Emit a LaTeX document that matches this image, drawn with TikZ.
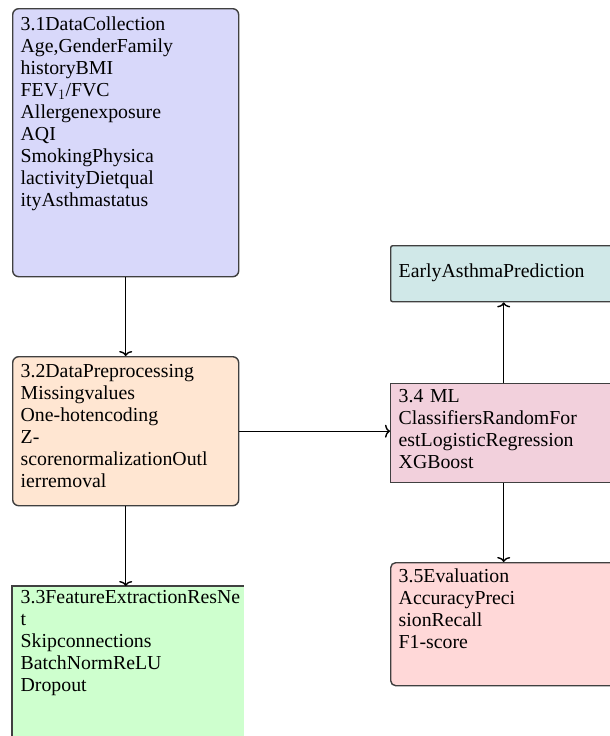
\documentclass[tikz,border=0pt]{standalone}
\usepackage{fontspec}
\setmainfont{Liberation Serif}
\usetikzlibrary{arrows.meta}
\definecolor{edgegray}{RGB}{64,64,64}
\definecolor{collectfill}{RGB}{216,216,250}
\definecolor{prepfill}{RGB}{255,230,210}
\definecolor{featfill}{RGB}{206,255,206}
\definecolor{predfill}{RGB}{208,232,232}
\definecolor{mlfill}{RGB}{242,208,220}
\definecolor{evalfill}{RGB}{255,216,216}
\tikzstyle{stage} = [
    rectangle,
    anchor=north west,
    text width=210pt,
    align=left,
    inner xsep=8pt,
    inner ysep=8.5pt,
    draw=edgegray,
    line width=1.4pt,
    font=\fontsize{19.8pt}{22pt}\selectfont
]
\tikzstyle{arrow} = [line width=1.4pt,-{To[length=5pt,width=13pt]}]

\begin{document}
\begin{tikzpicture}[x=1pt,y=-1pt]
\useasboundingbox (0,0) rectangle (610,736);
\clip (0,0) rectangle (610,736);

\node (collect) [stage, fill=collectfill, rounded corners=6pt,
    text height=13.5pt, text depth=237.5pt] at (12,8)
{3.1DataCollection\\ Age,GenderFamily\\ historyBMI\\ FEV$_1$/FVC\\
 Allergenexposure\\ AQI\\ SmokingPhysica\\ lactivityDietqual\\ ityAsthmastatus};

\node (prep) [stage, fill=prepfill, rounded corners=6pt,
    text height=12.5pt, text depth=119.5pt] at (12,356)
{3.2DataPreprocessing\\ Missingvalues\\ One-hotencoding\\ Z-\\
 scorenormalizationOutl\\ ierremoval};

\node (feat) [stage, fill=featfill, draw=none, text width=215pt,
    text height=8.5pt, text depth=168.5pt] at (12,586)
{3.3FeatureExtractionResNe\\ t\\ Skipconnections\\ BatchNormReLU\\ Dropout};
\draw [edgegray, line width=1.4pt] (feat.south west) |- (feat.north east);

\node (pred) [stage, fill=predfill, rounded corners=2pt,
    text height=23.5pt, text depth=15.5pt] at (390,245)
{EarlyAsthmaPrediction};

\node (ml) [stage, fill=mlfill,
    text height=10.5pt, text depth=71.5pt] at (390,383)
{3.4 ML\\ ClassifiersRandomFor\\ estLogisticRegression\\ XGBoost};

\node (eval) [stage, fill=evalfill, rounded corners=5pt,
    text height=11.5pt, text depth=94.5pt] at (390,562)
{3.5Evaluation\\ AccuracyPreci\\ sionRecall\\ F1-score};

\draw [arrow] (collect) -- (prep);
\draw [arrow] (prep.south) -- (prep.south |- feat.north);
\draw [arrow] (prep.east) -- (prep.east -| ml.west);
\draw [arrow] (ml) -- (pred);
\draw [arrow] (ml) -- (eval);

\end{tikzpicture}
\end{document}
